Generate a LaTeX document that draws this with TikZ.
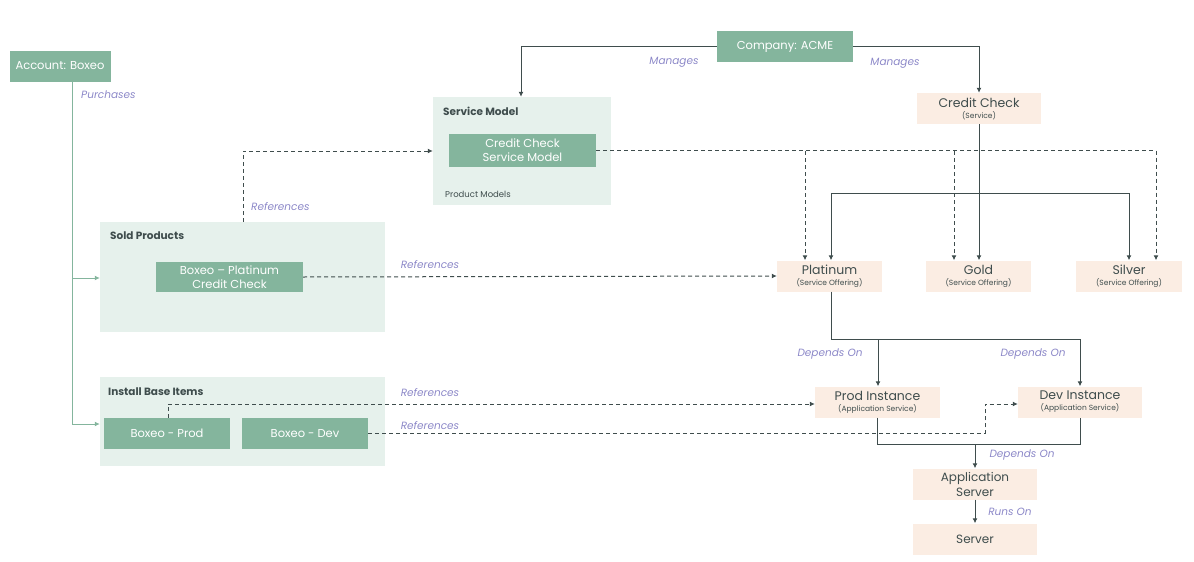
\documentclass[tikz,border=0pt]{standalone}
\usepackage{fontspec}
\setmainfont{Poppins}
\usetikzlibrary{calc,arrows.meta}
\definecolor{boxgreen}{HTML}{84B59D}
\definecolor{bggreen}{HTML}{E6F1EC}
\definecolor{peach}{HTML}{FBEDE3}
\definecolor{lblue}{HTML}{8C88C8}
\definecolor{edge}{HTML}{3F4D4D}
\tikzset{
	acc/.style={fill=boxgreen,text=white,minimum height=31pt,align=center,font=\fontsize{11.5}{14}\selectfont,inner sep=1pt},
	grp/.style={fill=bggreen,inner sep=0pt},
	svc/.style={fill=peach,text=edge,minimum width=124pt,minimum height=31pt,align=center,inner sep=1pt,font=\fontsize{12.5}{13}\selectfont},
	lbl/.style={text=lblue,font=\itshape\fontsize{10.5}{11}\selectfont,inner sep=1pt},
	ttl/.style={text=edge,font=\bfseries\fontsize{10.5}{11}\selectfont,anchor=west,inner sep=0pt},
	rel/.style={edge,line width=1pt,-{Latex[length=5pt,width=5pt]}},
	refl/.style={rel,dashed,dash pattern=on 4pt off 3pt}
}
\newcommand{\sub}[1]{\\[-2pt]{\fontsize{7.5}{8}\selectfont #1}}
\begin{document}
\begin{tikzpicture}[x=1pt,y=-1pt]
				\useasboundingbox (0,0) rectangle (1194,562);
				%group backgrounds
				\node[grp,minimum width=178pt,minimum height=108pt] (sm) at (522,151){};
				\node[grp,minimum width=285pt,minimum height=110pt] (sp) at (242.5,277){};
				\node[grp,minimum width=285pt,minimum height=89pt] (ib) at (242.5,421.5){};
				\node[ttl] at (443,111){Service Model};
				\node[ttl] at (110,236){Sold Products};
				\node[ttl] at (108,392){Install Base Items};
				\node[text=edge,anchor=west,inner sep=0pt,font=\fontsize{8.5}{9}\selectfont] at (445,194){Product Models};

				%green boxes
				\node[acc,minimum width=101pt] (acct) at (60,66){Account: Boxeo};
				\node[acc,minimum width=136pt] (acme) at (785,46.5){Company: ACME};
				\node[acc,minimum width=147pt,minimum height=33pt] (csm) at (522.5,150.5){Credit Check\\Service Model};
				\node[acc,minimum width=147pt,minimum height=30pt] (bpc) at (229.5,277){Boxeo -- Platinum\\Credit Check};
				\node[acc,minimum width=126pt] (bprod) at (167,433.5){Boxeo - Prod};
				\node[acc,minimum width=126pt] (bdev) at (305,433.5){Boxeo - Dev};

				%service boxes
				\node[svc] (cc) at (979,108.5){Credit Check\sub{(Service)}};
				\node[svc,minimum width=105pt] (plat) at (829.5,276){Platinum\sub{(Service Offering)}};
				\node[svc,minimum width=105pt] (gold) at (978.5,276){Gold\sub{(Service Offering)}};
				\node[svc,minimum width=106pt] (silv) at (1129,276){Silver\sub{(Service Offering)}};
				\node[svc,minimum width=125pt] (prodi) at (877.5,402){Prod Instance\sub{(Application Service)}};
				\node[svc,minimum width=124pt] (devi) at (1080,402){Dev Instance\sub{(Application Service)}};
				\node[svc,font=\fontsize{12}{15}\selectfont] (apps) at (975,484){Application\\Server};
				\node[svc,font=\fontsize{12}{15}\selectfont] (serv) at (975,539){Server};

				%account purchases
				\draw[boxgreen,line width=1pt] (acct.south -| 72,0)--(72,424);
				\draw[boxgreen,line width=1pt,-{Latex[length=5pt,width=5pt]}] (72,278)--(sp.west |- 0,278);
				\draw[boxgreen,line width=1pt,-{Latex[length=5pt,width=5pt]}] (72,424)--(ib.west |- 0,424);
				\node[lbl,anchor=west] at (80,95){Purchases};

				%company manages
				\draw[rel] (acme.west)-|(sm.north -| 521,0);
				\draw[rel] (acme.east)-|(cc.north);
				\node[lbl] at (674,62){Manages};
				\node[lbl] at (895,63){Manages};

				%offerings
				\draw[rel] (cc.south)--(plat.north -| cc.south);
				\draw[rel] (979,193)-|(plat.north -| 831,0);
				\draw[rel] (979,193)-|(silv.north);
				\draw[refl] (csm.east)-|(silv.north -| 1156,0);
				\draw[refl] (805,151)--(plat.north -| 805,0);
				\draw[refl] (954,151)--(gold.north -| 954,0);

				%references
				\draw[refl] (sp.north -| 243,0)|-(sm.west);
				\node[lbl,anchor=west] at (250,207){References};
				\draw[refl] (bpc.east)--(plat.west);
				\node[lbl] at (430,265){References};
				\draw[refl] (bprod.north -| 168,0)|-(prodi.west |- 0,404);
				\node[lbl] at (430,393){References};
				\draw[refl] (bdev.east)-|(985,404)--(devi.west |- 0,404);
				\node[lbl] at (430,426){References};

				%dependencies
				\draw[edge,line width=1pt] (plat.south -| 831,0)|-(1080,339);
				\draw[rel] (878,339)--(prodi.north -| 878,0);
				\draw[rel] (1080,339)--(devi.north);
				\node[lbl] at (830,354){Depends On};
				\node[lbl] at (1033,354){Depends On};
				\draw[edge,line width=1pt] (prodi.south -| 877,0)|-(1080,444)--(devi.south -| 1080,0);
				\draw[rel] (975,444)--(apps.north);
				\node[lbl] at (1022,455){Depends On};
				\draw[rel] (apps.south)--(serv.north);
				\node[lbl] at (1010,512){Runs On};
				\end{tikzpicture}
\end{document}
